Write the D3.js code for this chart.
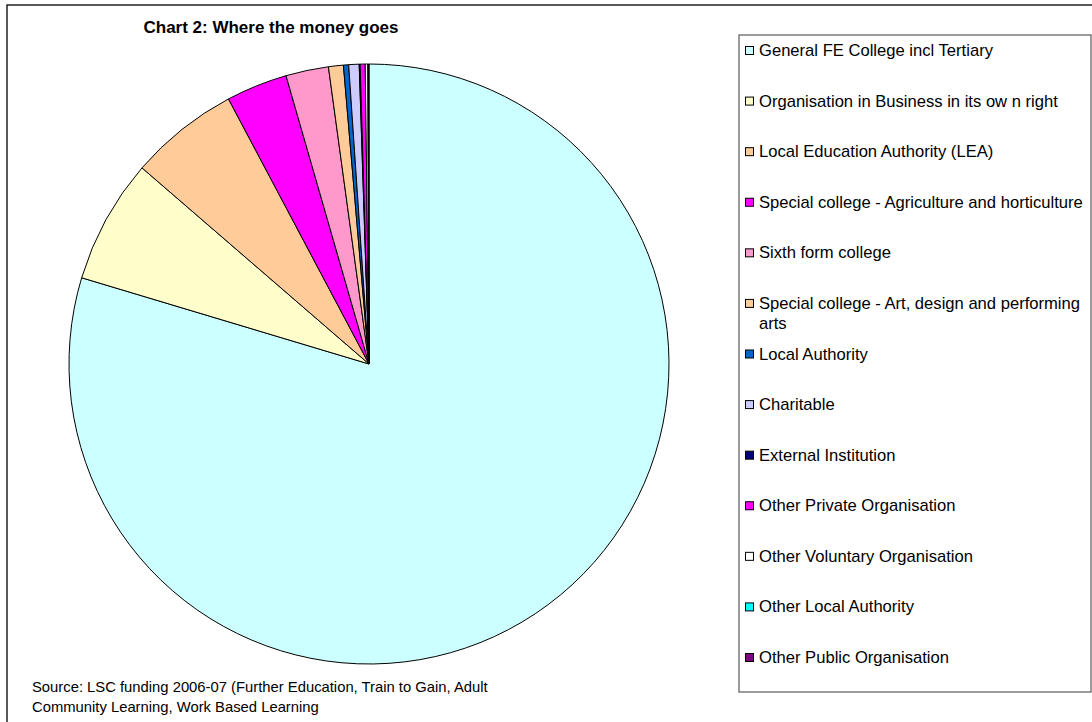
<!DOCTYPE html>
<html>
<head>
<meta charset="utf-8">
<script src="https://cdn.jsdelivr.net/npm/d3@7"></script>
<style>
  html, body { margin: 0; padding: 0; background: #fff; }
  svg text { font-family: "Liberation Sans", Arial, sans-serif; fill: #000; }
</style>
</head>
<body>
<div id="chart"></div>
<script>
// Funding categories, in legend / slice order
const categories = [
    'General FE College incl Tertiary',
    'Organisation in Business in its ow n right',
    'Local Education Authority (LEA)',
    'Special college - Agriculture and horticulture',
    'Sixth form college',
    'Special college - Art, design and performing arts',
    'Local Authority',
    'Charitable',
    'External Institution',
    'Other Private Organisation',
    'Other Voluntary Organisation',
    'Other Local Authority',
    'Other Public Organisation'
];

// Share of funding (%), estimated from the slices
const shares = [79.64, 6.7, 5.9, 3.3, 2.3, 0.8, 0.28, 0.56, 0.05, 0.27, 0.14, 0.03, 0.03];

const sliceColors = [
    '#CCFFFF', '#FFFFCC', '#FFCC99', '#FF00FF', '#FF99CC', '#FFCC99', '#0066CC',
    '#CCCCFF', '#000080', '#FF00FF', '#FFFFFF', '#00FFFF', '#800080'
];

const titleText = 'Chart 2: Where the money goes';
const sourceLines = [
    'Source: LSC funding 2006-07 (Further Education, Train to Gain, Adult',
    'Community Learning, Work Based Learning'
];

const width = 1092, height = 722;

const svg = d3.select('#chart')
    .append('svg')
    .attr('width', width)
    .attr('height', height);

svg.append('rect')
    .attr('width', width).attr('height', height)
    .attr('fill', '#fff');

// Chart area frame (runs off the right and bottom of the picture)
svg.append('rect')
    .attr('x', 7).attr('y', 5)
    .attr('width', width + 20).attr('height', height + 20)
    .attr('fill', 'none')
    .attr('stroke', '#000')
    .attr('stroke-width', 1.3);

svg.append('text')
    .attr('x', 271).attr('y', 33)
    .attr('text-anchor', 'middle')
    .style('font-size', '17px')
    .style('font-weight', 'bold')
    .text(titleText);

// Pie
const cx = 369, cy = 364, radius = 300;

const pie = d3.pie().sort(null).value(d => d.value);
const arc = d3.arc().innerRadius(0).outerRadius(radius);

const data = categories.map((c, i) => ({ name: c, value: shares[i], color: sliceColors[i] }));

svg.append('g')
    .attr('transform', `translate(${cx},${cy})`)
    .selectAll('path')
    .data(pie(data))
    .join('path')
    .attr('d', arc)
    .attr('fill', d => d.data.color)
    .attr('stroke', '#000')
    .attr('stroke-width', 1)
    .attr('stroke-linejoin', 'round');

// Source note
svg.append('g')
    .selectAll('text')
    .data(sourceLines)
    .join('text')
    .attr('x', 32)
    .attr('y', (d, i) => 692 + i * 20)
    .style('font-size', '14.8px')
    .text(d => d);

// Legend
const legend = svg.append('g');

legend.append('rect')
    .attr('x', 739).attr('y', 35)
    .attr('width', 352).attr('height', 657)
    .attr('fill', '#fff')
    .attr('stroke', '#666')
    .attr('stroke-width', 1.3);

const legendY = d3.scalePoint()
    .domain(categories)
    .range([50, 657]);

const items = legend.selectAll('g.item')
    .data(data)
    .join('g')
    .attr('class', 'item')
    .attr('transform', d => `translate(0,${legendY(d.name)})`);

items.append('rect')
    .attr('x', 745.5).attr('y', -3.5)
    .attr('width', 8).attr('height', 8)
    .attr('fill', d => d.color)
    .attr('stroke', '#000')
    .attr('stroke-width', 1);

// wrap the one long label the way the original does
items.append('text')
    .attr('x', 759)
    .attr('y', 6)
    .style('font-size', '16.6px')
    .each(function(d) {
        const t = d3.select(this);
        const parts = d.name === 'Special college - Art, design and performing arts'
            ? ['Special college - Art, design and performing', 'arts']
            : [d.name];
        parts.forEach((p, i) => {
            t.append('tspan').attr('x', 759).attr('dy', i === 0 ? 0 : 20).text(p);
        });
    });
</script>
</body>
</html>
